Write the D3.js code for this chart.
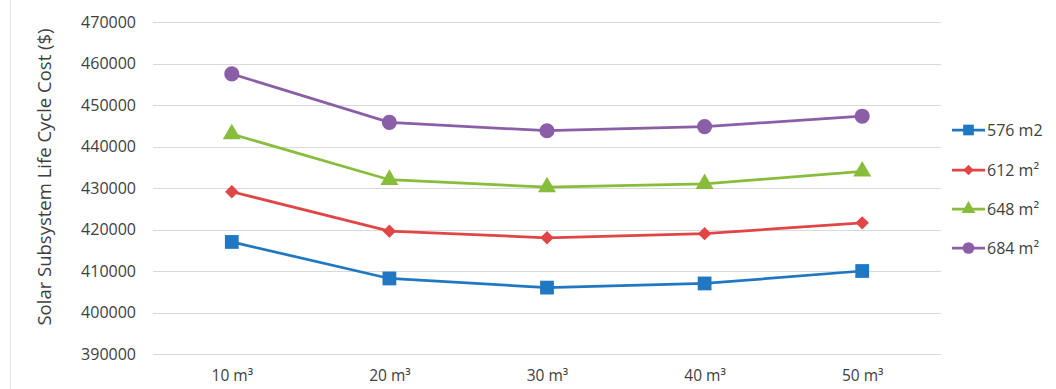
<!DOCTYPE html>
<html><head><meta charset="utf-8">
<script src="https://cdn.jsdelivr.net/npm/d3@7"></script>
<style>body{margin:0;background:#fff}svg{display:block}</style>
</head><body>
<svg id="c" width="1056" height="389"></svg>
<script>
const categories = ["10 m³","20 m³","30 m³","40 m³","50 m³"];
const seriesNames = ["576 m2","612 m²","648 m²","684 m²"];
const s576 = [417000,408200,406000,407000,410000];
const s612 = [429100,419600,418000,419000,421600];
const s648 = [443000,432000,430200,431000,434000];
const s684 = [457500,445800,443800,444800,447300];
const yTicks = [390000,400000,410000,420000,430000,440000,450000,460000,470000];
const colors = ["#1f78c1","#e04646","#88bd3c","#8a5fa8"];
const symbols = [d3.symbolSquare, d3.symbolSquare, d3.symbolTriangle, d3.symbolCircle];
const rotations = [0, 45, 0, 0];
const symSizes = [190, 90, 140, 180];
const series = [s576, s612, s648, s684];

const svg = d3.select("#c");
const L = 153, R = 941, T = 22, B = 354;
const x = d3.scalePoint().domain(categories).range([L, R]).padding(0.5);
const y = d3.scaleLinear().domain([390000, 470000]).range([B, T]);

svg.append("line").attr("x1",10.5).attr("x2",10.5).attr("y1",0).attr("y2",389).attr("stroke","#e3e3e3");

svg.append("g").selectAll("line").data(yTicks).join("line")
  .attr("x1",L).attr("x2",R).attr("y1",d=>Math.round(y(d))+0.5).attr("y2",d=>Math.round(y(d))+0.5)
  .attr("stroke","#d9d9d9").attr("stroke-width",1);

const yAxis = d3.axisLeft(y).tickValues(yTicks).tickSize(0).tickPadding(0).tickFormat(d3.format("d"));
const ga = svg.append("g").attr("transform",`translate(${L-17},0)`).call(yAxis);
ga.select(".domain").remove();
ga.selectAll("text").attr("font-family","'Open Sans', sans-serif").attr("font-size",16).attr("fill","#404040");

const xAxis = d3.axisBottom(x).tickSize(0).tickPadding(0);
const gx = svg.append("g").attr("transform",`translate(0,${B+16})`).call(xAxis);
gx.select(".domain").remove();
gx.selectAll("text").attr("font-family","'Open Sans', sans-serif").attr("font-size",15.5).attr("fill","#404040");

svg.append("text").attr("transform",`translate(51,177) rotate(-90)`).attr("text-anchor","middle")
  .attr("font-family","'Open Sans', sans-serif").attr("font-size",18.5).attr("fill","#404040")
  .text("Solar Subsystem Life Cycle Cost ($)");

const line = d3.line().x((d,i)=>x(categories[i])).y(d=>y(d));
series.forEach((s,k)=>{
  svg.append("path").datum(s).attr("d",line).attr("fill","none").attr("stroke",colors[k]).attr("stroke-width",2.75);
  svg.append("g").selectAll("path").data(s).join("path")
    .attr("transform",(d,i)=>`translate(${x(categories[i])},${y(d)}) rotate(${rotations[k]})`)
    .attr("d",d3.symbol().type(symbols[k]).size(symSizes[k]))
    .attr("fill",colors[k]);
});

const legY = [130,170,209,248];
seriesNames.forEach((n,k)=>{
  const g = svg.append("g").attr("transform",`translate(952,${legY[k]})`);
  g.append("line").attr("x1",0).attr("x2",33).attr("y1",0).attr("y2",0).attr("stroke",colors[k]).attr("stroke-width",2.75);
  g.append("path").attr("transform",`translate(16.5,0) rotate(${rotations[k]})`).attr("d",d3.symbol().type(symbols[k]).size(symSizes[k]*0.6)).attr("fill",colors[k]);
  g.append("text").attr("x",35).attr("y",0).attr("dy","0.35em").attr("font-family","'Open Sans', sans-serif")
    .attr("font-size",16).attr("fill","#404040").text(n);
});
</script>
</body></html>
